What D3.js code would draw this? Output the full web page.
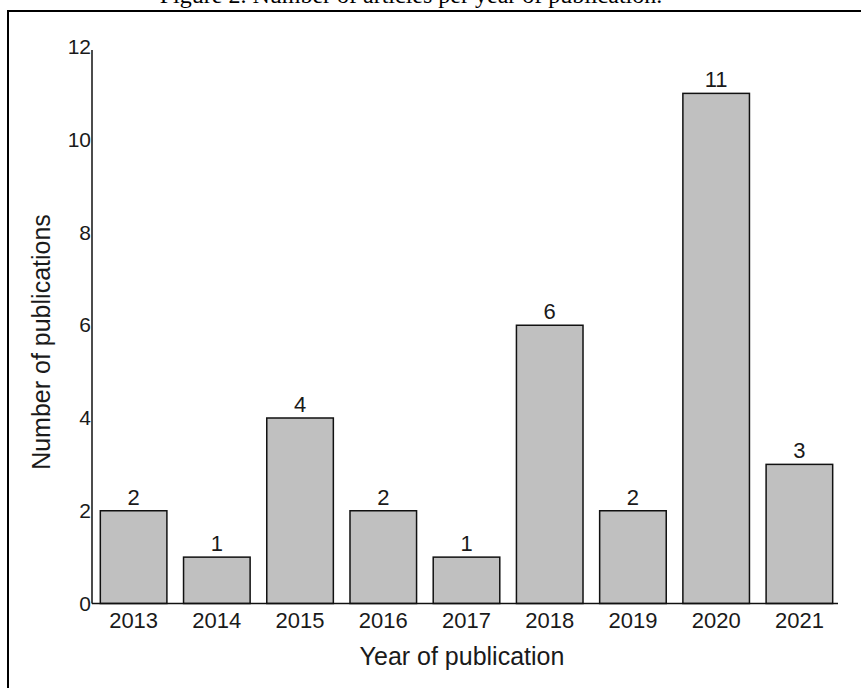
<!DOCTYPE html>
<html>
<head>
<meta charset="utf-8">
<script src="https://cdn.jsdelivr.net/npm/d3@7"></script>
<style>
body { margin:0; background:#fff; }
text { font-family: Arial, "Liberation Sans", sans-serif; fill:#1a1a1a; }
</style>
</head>
<body>
<div id="chart"></div>
<script>
var years = ["2013","2014","2015","2016","2017","2018","2019","2020","2021"];
var counts = [2, 1, 4, 2, 1, 6, 2, 11, 3];
var yTicks = [0, 2, 4, 6, 8, 10, 12];

var widthPage = 861;
var heightPage = 688;
var padding = {top:47, bottom:84.5, left:92, right:20};
var width = widthPage - padding.left - padding.right;
var height = heightPage - padding.top - padding.bottom;

var svg = d3.select("#chart").append("svg").attr("width", widthPage).attr("height", heightPage);

// clipped caption and frame
svg.append("text").attr("x", 411).attr("y", 3).attr("text-anchor", "middle")
    .style("font-family", "'Liberation Serif', 'Times New Roman', serif").style("font-size", "24px")
    .style("fill", "#000").text("Figure 2. Number of articles per year of publication.");
svg.append("path").attr("d", "M8,700 L8,11 L870,11").attr("fill", "none").attr("stroke", "#000").attr("stroke-width", 2);

var graph = svg.append("g").attr("transform", `translate(${padding.left},${padding.top})`);

var x = d3.scaleBand().domain(years).range([0, 749]).paddingInner(0.2).paddingOuter(0.1);
var y = d3.scaleLinear().domain([0, 12]).range([height, 0]);

var data = years.map(function(yr, i){ return {year: yr, n: counts[i]}; });

graph.selectAll(".bar").data(data).enter().append("rect").classed("bar", true)
    .attr("x", d => x(d.year)).attr("y", d => y(d.n))
    .attr("width", x.bandwidth()).attr("height", d => height - y(d.n))
    .attr("fill", "#c0c0c0").attr("stroke", "#111").attr("stroke-width", 1.5);

graph.selectAll(".val").data(data).enter().append("text").classed("val", true)
    .attr("x", d => x(d.year) + x.bandwidth()/2).attr("y", d => y(d.n) - 6)
    .attr("text-anchor", "middle").style("font-size", "22px").text(d => d.n);

var xaxis = graph.append("g").attr("transform", `translate(0,${height})`)
    .call(d3.axisBottom(x).tickSize(0).tickPadding(9));
xaxis.select(".domain").attr("d", "M0,0H746").attr("stroke", "#111").attr("stroke-width", 1.5);
xaxis.selectAll("text").style("font-size", "22px").style("font-family", "Arial, 'Liberation Sans', sans-serif").attr("fill", "#1a1a1a");

var yaxis = graph.append("g").call(d3.axisLeft(y).tickValues(yTicks).tickSize(0).tickPadding(1));
yaxis.select(".domain").attr("d", `M0,${height}V3`).attr("stroke", "#111").attr("stroke-width", 1.5);
yaxis.selectAll("text").style("font-size", "21px").style("font-family", "Arial, 'Liberation Sans', sans-serif")
    .attr("fill", "#1a1a1a");

graph.append("text").attr("x", 370).attr("y", height + 61).attr("text-anchor", "middle")
    .style("font-size", "25px").text("Year of publication");
graph.append("text").attr("transform", `translate(${41 - padding.left},${342 - padding.top}) rotate(-90)`)
    .attr("text-anchor", "middle").attr("dy", "0.35em").style("font-size", "25px").text("Number of publications");
</script>
</body>
</html>
